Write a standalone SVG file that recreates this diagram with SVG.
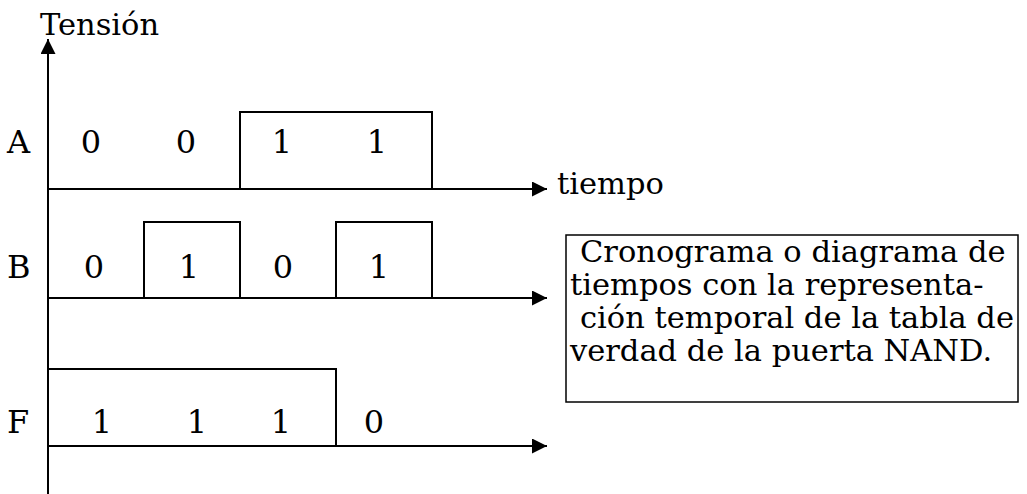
<svg xmlns="http://www.w3.org/2000/svg" width="1027" height="494" viewBox="0 0 1027 494">
<style>
.t{font-family:"DejaVu Serif","Liberation Serif",serif;font-size:30.5px;fill:#000}
.d{font-size:32px}
.c{text-anchor:middle}
.ax{stroke:#000;stroke-width:2;fill:none}
.sig{stroke:#000;stroke-width:2;fill:none}
</style>
<defs>
<marker id="arr" markerUnits="userSpaceOnUse" markerWidth="16" markerHeight="16" refX="15" refY="7.5" orient="auto">
<path d="M0,0 L15,7.5 L0,15 z" fill="#000"/>
</marker>
</defs>
<rect width="1027" height="494" fill="#fff"/>
<g id="connectors">
<line class="ax" x1="48" y1="494" x2="48" y2="39" marker-end="url(#arr)"/>
<line class="ax" x1="48" y1="189" x2="547" y2="189" marker-end="url(#arr)"/>
<line class="ax" x1="48" y1="298" x2="547" y2="298" marker-end="url(#arr)"/>
<line class="ax" x1="48" y1="446" x2="547" y2="446" marker-end="url(#arr)"/>
</g>
<g id="axis-labels">
<text class="t" x="40" y="35">Tensión</text>
<text class="t" x="557" y="194">tiempo</text>
</g>
<g id="signal-A">
<text class="t d" x="7" y="153">A</text>
<path class="sig" d="M240,189 V112 H432 V189"/>
<text class="t d c" x="91" y="153">0</text>
<text class="t d c" x="186" y="153">0</text>
<text class="t d c" x="282" y="153">1</text>
<text class="t d c" x="377" y="153">1</text>
</g>
<g id="signal-B">
<text class="t d" x="7" y="278">B</text>
<path class="sig" d="M144,298 V222 H240 V298 M336,298 V222 H432 V298"/>
<text class="t d c" x="94" y="278">0</text>
<text class="t d c" x="189" y="278">1</text>
<text class="t d c" x="283" y="278">0</text>
<text class="t d c" x="379" y="278">1</text>
</g>
<g id="signal-F">
<text class="t d" x="7" y="433">F</text>
<path class="sig" d="M48,446 V369 H336 V446"/>
<text class="t d c" x="102" y="433">1</text>
<text class="t d c" x="197" y="433">1</text>
<text class="t d c" x="281" y="433">1</text>
<text class="t d c" x="374" y="433">0</text>
</g>
<g id="caption">
<rect x="566" y="235" width="452" height="167" fill="#fff" stroke="#000" stroke-width="1.5"/>
<text class="t" x="580" y="262">Cronograma o diagrama de</text>
<text class="t" x="570" y="295">tiempos con la representa-</text>
<text class="t" x="580" y="328">ción temporal de la tabla de</text>
<text class="t" x="570" y="361">verdad de la puerta NAND.</text>
</g>
</svg>
